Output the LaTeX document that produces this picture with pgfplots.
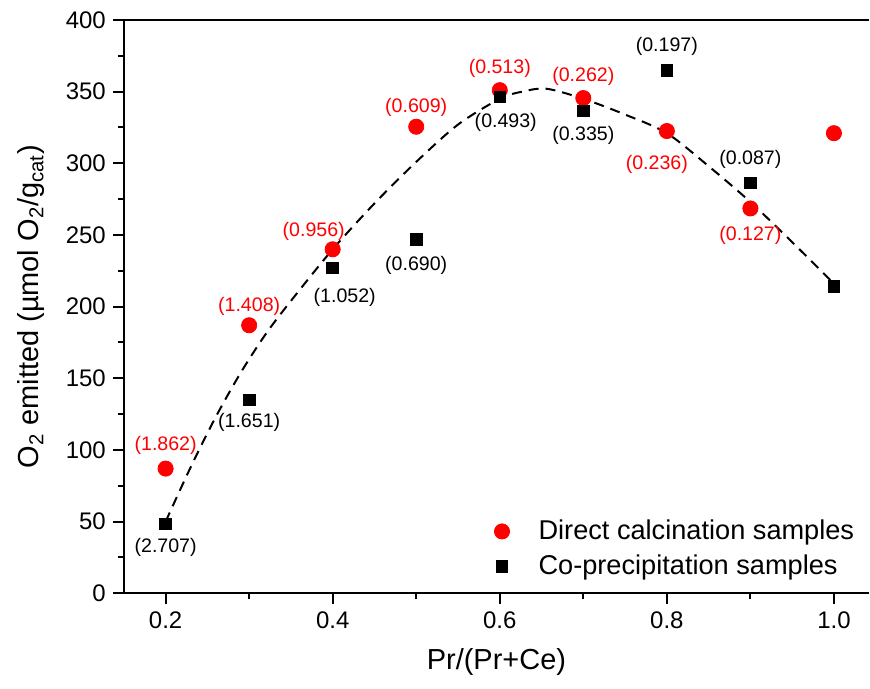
\documentclass[border=0pt]{standalone}
\usepackage{pgfplots}
\pgfplotsset{compat=1.18}
\usepackage{fontspec}
\setmainfont{Liberation Sans}
\definecolor{myred}{RGB}{255,0,0}
\begin{document}
\begin{tikzpicture}
\begin{axis}[
  width=373pt, height=287pt, scale only axis,
  xmin=0.15, xmax=1.042, ymin=0, ymax=400,
  clip=false,
  axis x line*=box, axis y line*=left,
  axis line style={line width=1pt},
  xtick={0.2,0.4,0.6,0.8,1.0},
  minor xtick={0.3,0.5,0.7,0.9},
  ytick={0,50,...,400},
  minor ytick={25,75,...,375},
  xtick pos=bottom, ytick pos=left,
  tick align=outside,
  major tick length=5.5pt, minor tick length=3pt,
  every tick/.style={line width=1pt, black},
  xticklabel style={/pgf/number format/.cd, fixed, fixed zerofill, precision=1},
  /pgf/number format/assume math mode=true,
  ticklabel style={font=\fontsize{12}{14}\selectfont},
  xlabel={Pr/(Pr+Ce)},
  ylabel={O\textsubscript{2} emitted (µmol O\textsubscript{2}/g\textsubscript{cat})},
  label style={font=\fontsize{14.5}{17}\selectfont},
  xlabel style={at={(rel axis cs:0.5,-0.120)}, anchor=center},
  ylabel style={at={(rel axis cs:-0.124,0.5)}, anchor=center},
  legend style={at={(rel axis cs:0.994,0.013)}, anchor=south east, draw=none, fill=none,
    font=\fontsize{13.6}{16}\selectfont, row sep=2pt, column sep=12.5pt},
  legend cell align=left,
]
\path (rel axis cs:-0.1662,-0.1655) rectangle (rel axis cs:1,1.0348);

\addplot[only marks, mark=*, mark size=3.8pt, myred, mark options={draw=myred, fill=myred}]
coordinates {(0.2,87) (0.3,187) (0.4,240) (0.5,325.5) (0.6,351) (0.7,345.5) (0.8,322.5) (0.9,268.5) (1.0,321)};
\addlegendentry{Direct calcination samples}
\addplot[only marks, mark=square*, mark size=2.9pt, black]
coordinates {(0.2,48.3) (0.3,135) (0.4,227) (0.5,246.7) (0.6,346.3) (0.7,336.6) (0.8,365) (0.9,286.4) (1.0,214)};
\addlegendentry{Co-precipitation samples}

\addplot[black, line width=1pt, dash pattern=on 5pt off 3.5pt, smooth, tension=0.5, forget plot]
coordinates {(0.2,50) (0.23,88) (0.26,123) (0.29,154) (0.32,181) (0.35,204) (0.4,240) (0.45,272) (0.5,301) (0.55,327) (0.6,345) (0.627,350) (0.656,352) (0.7,345) (0.75,334) (0.8,321) (0.85,298) (0.9,273) (0.95,245) (1.0,216)};

\addplot[only marks, mark=none, forget plot, myred,
  nodes near coords, point meta=explicit symbolic,
  visualization depends on={value \thisrow{dx} \as \dx},
  visualization depends on={value \thisrow{dy} \as \dy},
  nodes near coords style={anchor=center, font=\fontsize{9.8}{11}\selectfont, text=myred, xshift=\dx pt, yshift=\dy pt}]
table[meta=lab]{
x y dx dy lab
0.2 87 0 11.5 (1.862)
0.3 187 0 9.5 (1.408)
0.4 240 -9.5 9 (0.956)
0.5 325.5 0 9.5 (0.609)
0.6 351 0 11 (0.513)
0.7 345.5 0 11 (0.262)
0.8 322.5 -5 -16.5 (0.236)
0.9 268.5 0 -13.5 (0.127)
};
\addplot[only marks, mark=none, forget plot, black,
  nodes near coords, point meta=explicit symbolic,
  visualization depends on={value \thisrow{dx} \as \dx},
  visualization depends on={value \thisrow{dy} \as \dy},
  nodes near coords style={anchor=center, font=\fontsize{9.8}{11}\selectfont, text=black, xshift=\dx pt, yshift=\dy pt}]
table[meta=lab]{
x y dx dy lab
0.2 48.3 0 -11.5 (2.707)
0.3 135 0 -11.5 (1.651)
0.4 227 6 -15 (1.052)
0.5 246.7 0 -13 (0.690)
0.6 346.3 3 -13 (0.493)
0.7 336.6 0 -12.5 (0.335)
0.8 365 0 12 (0.197)
0.9 286.4 0 11.5 (0.087)
};
\end{axis}
\end{tikzpicture}
\end{document}
